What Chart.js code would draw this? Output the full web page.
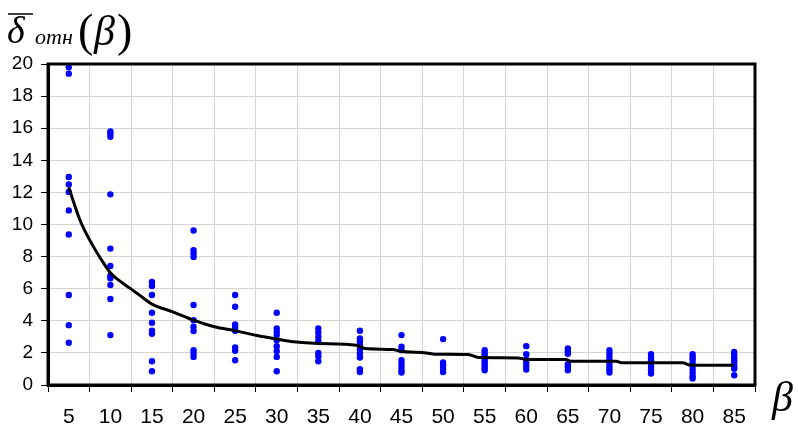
<!DOCTYPE html>
<html>
<head>
<meta charset="utf-8">
<script src="https://cdn.jsdelivr.net/npm/chart.js@4.4.1/dist/chart.umd.min.js"></script>
<style>
  html, body { margin: 0; padding: 0; background: #fff; }
  #wrap { width: 798px; height: 426px; }
</style>
</head>
<body>
<div id="wrap"><canvas id="chart"></canvas></div>
<script>
// beta categories (x axis)
const betas = [5, 10, 15, 20, 25, 30, 35, 40, 45, 50, 55, 60, 65, 70, 75, 80, 85];

// measured relative errors, one list per beta
const measured = [
  [19.8, 19.4, 12.96, 12.5, 12.03, 10.88, 9.38, 5.61, 3.73, 2.63],
  [15.8, 15.65, 15.46, 11.88, 8.5, 7.42, 6.81, 6.65, 6.23, 5.36, 3.11],
  [6.42, 6.17, 5.61, 4.5, 3.88, 3.38, 3.19, 1.48, 0.86],
  [9.63, 8.4, 8.19, 7.98, 4.98, 4.04, 3.63, 3.36, 2.17, 1.96, 1.75],
  [5.61, 4.88, 3.77, 3.59, 3.38, 2.34, 2.13, 1.54],
  [4.5, 3.52, 3.31, 3.11, 2.79, 2.42, 2.11, 1.75, 0.86],
  [3.52, 3.27, 3.0, 2.75, 2.0, 1.79, 1.48],
  [3.38, 2.9, 2.69, 2.48, 2.21, 1.96, 1.71, 0.98, 0.81],
  [3.11, 2.38, 2.17, 1.54, 1.34, 1.13, 0.92, 0.78],
  [2.86, 1.4, 1.23, 1.02, 0.81],
  [2.17, 2.0, 1.86, 1.69, 1.54, 1.38, 1.23, 1.06, 0.92],
  [2.42, 1.92, 1.59, 1.38, 1.17, 0.96],
  [2.27, 2.1, 1.95, 1.3, 1.12, 0.92],
  [2.17, 1.96, 1.75, 1.54, 1.34, 1.13, 0.96, 0.78],
  [1.92, 1.71, 1.54, 1.34, 1.13, 0.92, 0.71],
  [1.92, 1.75, 1.59, 1.38, 1.17, 0.96, 0.75, 0.54, 0.4],
  [2.06, 1.9, 1.71, 1.54, 1.38, 1.17, 1.02, 0.61]
];

// mean curve
const curveBeta = [5, 6.4, 7.6, 8.8, 10, 11.5, 12.3, 13.5, 15, 17.5, 20, 22.5, 25, 27.5, 30, 32, 35, 39.6, 40.6, 44, 44.8, 48, 49, 53, 54.4, 59, 60, 64.8, 65.3, 70.8, 71.6, 78.8, 79.8, 85];
const curveMean = [12.3, 10.2, 8.95, 7.9, 7.0, 6.34, 6.05, 5.6, 5.04, 4.56, 4.04, 3.63, 3.38, 3.1, 2.86, 2.69, 2.58, 2.48, 2.27, 2.21, 2.1, 2.0, 1.92, 1.9, 1.71, 1.69, 1.59, 1.59, 1.48, 1.48, 1.38, 1.38, 1.23, 1.23];

const scatterPts = [];
betas.forEach((b, i) => measured[i].forEach(v => scatterPts.push({ x: b, y: v })));
const curvePts = curveBeta.map((b, i) => ({ x: b, y: curveMean[i] }));

const decor = {
  id: 'decor',
  afterDraw(chart) {
    const c = chart.ctx, a = chart.chartArea;
    c.save();
    // frame
    c.strokeStyle = '#000';
    c.lineWidth = 3;
    c.strokeRect(a.left, a.top, a.right - a.left, a.bottom - a.top);
    // y title
    c.fillStyle = '#000';
    c.textBaseline = 'alphabetic';
    c.font = 'italic 38px "Liberation Serif"';
    c.fillText('δ', 7, 43);
    c.lineWidth = 1.5;
    c.beginPath(); c.moveTo(8, 14); c.lineTo(33, 14); c.stroke();
    c.font = 'italic 22px "Liberation Serif"';
    c.fillText('отн', 35, 44);
    c.font = '46px "Liberation Serif"';
    c.fillText('(', 78, 46);
    c.font = 'italic 42px "Liberation Serif"';
    c.fillText('β', 94, 45);
    c.font = '46px "Liberation Serif"';
    c.fillText(')', 117, 46);
    // x title
    c.font = 'italic 42px "Liberation Serif"';
    c.fillText('β', 772, 411);
    c.restore();
  }
};

new Chart(document.getElementById('chart'), {
  data: {
    datasets: [
      {
        type: 'line',
        data: curvePts,
        borderColor: '#000',
        borderWidth: 3,
        pointRadius: 0,
        cubicInterpolationMode: 'monotone',
        fill: false,
        order: 0
      },
      {
        type: 'scatter',
        data: scatterPts,
        backgroundColor: '#0000ff',
        borderWidth: 0,
        pointRadius: 3.2,
        order: 1
      }
    ]
  },
  options: {
    responsive: true,
    maintainAspectRatio: false,
    animation: false,
    layout: { padding: { left: 0, top: 64, right: 43, bottom: 0 } },
    plugins: { legend: { display: false }, tooltip: { enabled: false } },
    scales: {
      x: {
        type: 'linear',
        min: 2.5,
        max: 87.5,
        offset: false,
        afterBuildTicks: s => { s.ticks = betas.map(v => ({ value: v })); },
        afterFit: s => { s.height = 41; },
        grid: { offset: true, color: '#d4d4d4', tickColor: '#000', tickLength: 7, lineWidth: 1 },
        border: { color: '#000', width: 3 },
        ticks: {
          color: '#000',
          font: { family: 'Liberation Sans', size: 21 },
          padding: 13,
          maxRotation: 0,
          autoSkip: false
        }
      },
      y: {
        min: 0,
        max: 20,
        afterFit: s => { s.width = 48; },
        grid: { color: '#d4d4d4', tickColor: '#000', tickLength: 7, lineWidth: 1 },
        border: { color: '#000', width: 3 },
        ticks: {
          stepSize: 2,
          color: '#000',
          font: { family: 'Liberation Sans', size: 19 },
          padding: 8
        }
      }
    }
  },
  plugins: [decor]
});
</script>
</body>
</html>
